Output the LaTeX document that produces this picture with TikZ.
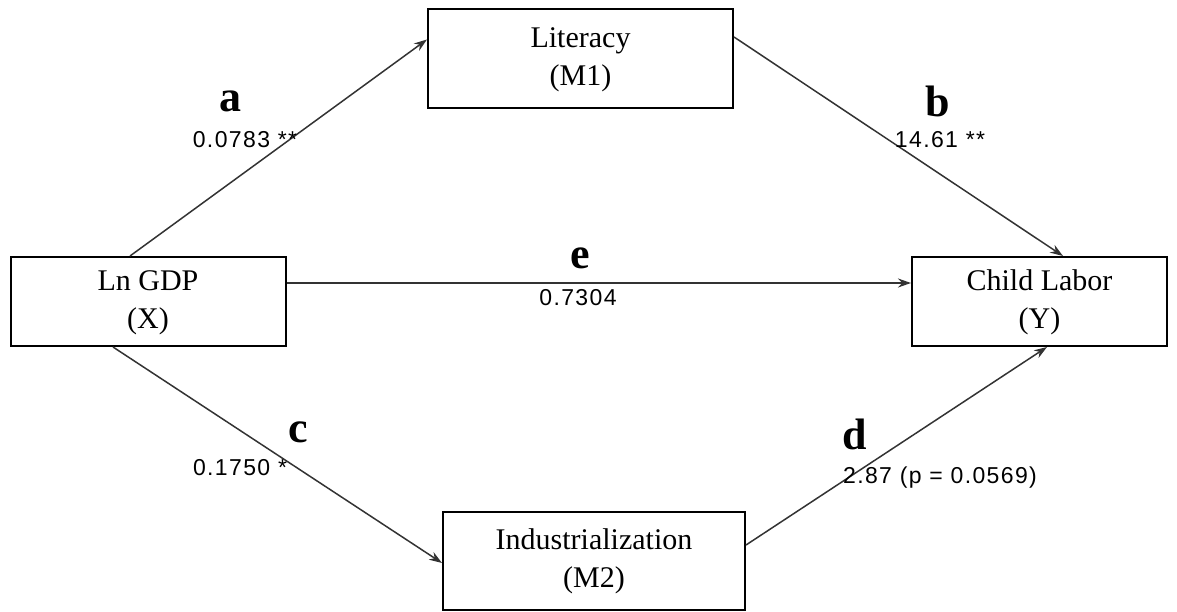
\documentclass[tikz,border=0pt]{standalone}
\usepackage{fontspec}
\setmainfont{Liberation Serif}
\newfontfamily\numfont[LetterSpace=6]{Liberation Sans}
\usetikzlibrary{calc,arrows.meta}
% two-line variable label, set slightly below the box centre
\newcommand{\varlabel}[2]{\raisebox{-5pt}{\begin{tabular}{@{}c@{}}#1\\#2\end{tabular}}}
\begin{document}
\begin{tikzpicture}[x=1pt,y=-1pt,
  var/.style={draw=black,line width=2pt,fill=white,align=center,inner sep=0pt,
    font=\fontsize{30}{38}\selectfont},
  path/.style={draw=black!80,line width=1.5pt,-{Stealth[length=13pt,width=9pt]}},
  letter/.style={font=\fontsize{44}{44}\selectfont\bfseries,inner sep=0pt},
  coef/.style={font=\numfont\fontsize{23}{27}\selectfont,inner sep=0pt}]
  \useasboundingbox (0,0) rectangle (1177,612);
  % variables
  \node[var,minimum width=275pt,minimum height=89pt] (x)  at (148,301.5) {\varlabel{Ln GDP}{(X)}};
  \node[var,minimum width=305pt,minimum height=99pt] (m1) at (580.5,58.5) {\varlabel{Literacy}{(M1)}};
  \node[var,minimum width=302pt,minimum height=98pt] (m2) at (594,561) {\varlabel{Industrialization}{(M2)}};
  \node[var,minimum width=255pt,minimum height=89pt] (y)  at (1039.5,301.5) {\varlabel{Child Labor}{(Y)}};
  % paths
  \draw[path] ($(x.north)+(-18,0)$) -- ($(m1.west)+(0,-19)$);
  \draw[path] ($(m1.east)+(0,-21.5)$) -- ($(y.north)+(23.5,0)$);
  \draw[path] ($(x.east)+(0,-18.5)$) -- ($(y.west)+(0,-18.5)$);
  \draw[path] ($(x.south)+(-35,0)$) -- ($(m2.west)+(0,2)$);
  \draw[path] ($(m2.east)+(0,-16)$) -- ($(y.south)+(7.5,0)$);
  % path labels
  \node[letter] (la) at (230,101) {a};
  \node[coef] (ca) at (245,140) {0.0783 **};
  \node[letter] (lb) at (938,101) {b};
  \node[coef] (cb) at (940,140) {14.61 **};
  \node[letter] (le) at (580,258) {e};
  \node[coef] (ce) at (578,298) {0.7304};
  \node[letter] (lc) at (298,432) {c};
  \node[coef] (cc) at (240,468) {0.1750 *};
  \node[letter] (ld) at (855,434) {d};
  \node[coef] (cd) at (940,478) {2.87 (p = 0.0569)};
\end{tikzpicture}
\end{document}
